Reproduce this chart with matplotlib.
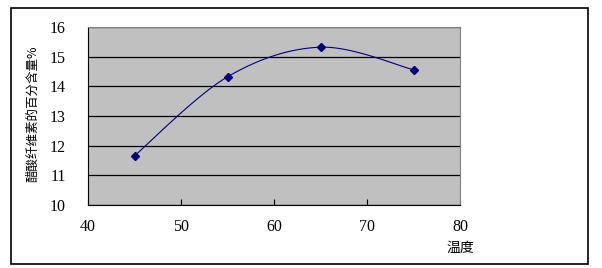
import numpy as np
import matplotlib
matplotlib.use("Agg")
import matplotlib.pyplot as plt
from matplotlib.patches import Rectangle

plt.rcParams['font.family'] = ['Liberation Serif', 'Noto Sans CJK SC']

temps = [45, 55, 65, 75]
content = [11.66, 14.32, 15.32, 14.56]
x_ticks = [40, 50, 60, 70, 80]
y_ticks = [10, 11, 12, 13, 14, 15, 16]
x_label = "温度"
y_label = "醋酸纤维素的百分含量%"


def smooth(xs, ys, n=40):
    # Catmull-Rom style curve through the points (like a spreadsheet "smoothed line")
    xs = np.asarray(xs, float)
    ys = np.asarray(ys, float)
    px = np.concatenate([[xs[0]], xs, [xs[-1]]])
    py = np.concatenate([[ys[0]], ys, [ys[-1]]])
    out_x, out_y = [], []
    t = np.linspace(0, 1, n)
    for i in range(1, len(px) - 2):
        p0x, p1x, p2x, p3x = px[i - 1], px[i], px[i + 1], px[i + 2]
        p0y, p1y, p2y, p3y = py[i - 1], py[i], py[i + 1], py[i + 2]
        c1x = p1x + (p2x - p0x) / 6
        c1y = p1y + (p2y - p0y) / 6
        c2x = p2x - (p3x - p1x) / 6
        c2y = p2y - (p3y - p1y) / 6
        bx = (1 - t) ** 3 * p1x + 3 * (1 - t) ** 2 * t * c1x + 3 * (1 - t) * t ** 2 * c2x + t ** 3 * p2x
        by = (1 - t) ** 3 * p1y + 3 * (1 - t) ** 2 * t * c1y + 3 * (1 - t) * t ** 2 * c2y + t ** 3 * p2y
        out_x.extend(bx)
        out_y.extend(by)
    return np.array(out_x), np.array(out_y)


W, H = 602, 268
fig = plt.figure(figsize=(W / 100, H / 100), dpi=100)
fig.patches.append(Rectangle((11 / W, 1 - 264 / H), (588 - 11) / W, (264 - 8) / H,
                             transform=fig.transFigure, fill=False, edgecolor='black', linewidth=1.2))

ax = fig.add_axes([88 / W, 1 - 205 / H, (460 - 88) / W, (205 - 27) / H])
ax.set_facecolor('#c0c0c0')

sx, sy = smooth(temps, content)
ax.plot(sx, sy, color='#000080', linewidth=0.8, zorder=3)
ax.plot(temps, content, linestyle='none', marker='D', markersize=4, color='#000080', zorder=4)

ax.set_xlim(40, 80)
ax.set_ylim(10, 16)
ax.set_xticks(x_ticks)
ax.set_yticks(y_ticks)
ax.yaxis.grid(True, color='black', linewidth=0.9)
ax.set_axisbelow(True)

for s in ['top', 'right']:
    ax.spines[s].set_color('#808080')
for s in ['left', 'bottom']:
    ax.spines[s].set_color('black')
ax.tick_params(axis='x', direction='in', length=4, pad=10, labelsize=11.5)
ax.tick_params(axis='y', direction='out', length=0, pad=16, labelsize=11.5)

fig.text(460 / W, 1 - 248 / H, x_label, ha='center', va='center', fontsize=10,
         family=['Noto Sans CJK SC'])
fig.text(33 / W, 1 - 114 / H, y_label, ha='center', va='center', rotation=90, fontsize=9,
         family=['Noto Sans CJK SC'])

fig.savefig('out.png', dpi=100)
